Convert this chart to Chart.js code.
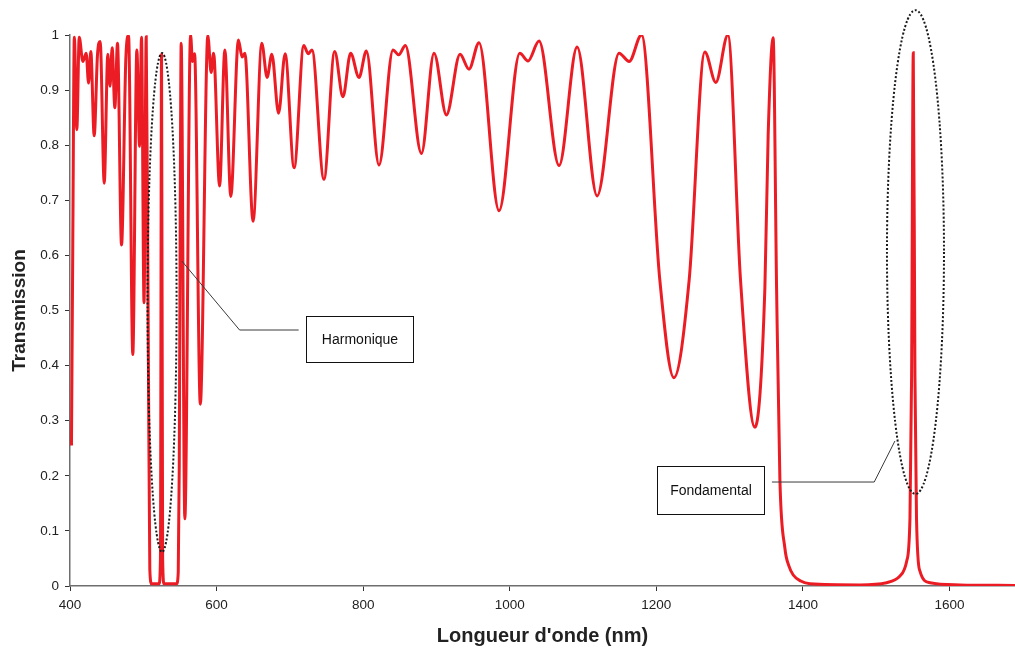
<!DOCTYPE html>
<html>
<head>
<meta charset="utf-8">
<script src="https://cdn.jsdelivr.net/npm/chart.js@4.4.1/dist/chart.umd.min.js"></script>
<style>
  html, body { margin: 0; padding: 0; background: #ffffff; overflow: hidden; }
  canvas { display: block; }
</style>
</head>
<body>
<canvas id="spectre" width="1015" height="652"></canvas>
<script>
// Transmission spectrum of the structure (wavelength in nm, transmission 0..1)
const wavelengthNm = [
  402.0, 403.8, 405.9, 409.3, 412.6, 417.5, 422.1, 425.3, 428.4, 433.0,
  437.5, 441.2, 446.7, 451.6, 454.6, 457.5, 461.2, 464.8, 470.3, 476.2,
  479.9, 485.7, 491.2, 494.9, 497.6, 501.0, 504.0, 506.8, 508.9, 511.3,
  521.5, 523.4, 524.9, 526.4, 528.3, 545.4, 547.7, 549.1, 550.4, 551.7,
  556.7, 564.5, 567.2, 570.0, 577.8, 588.1, 592.5, 595.9, 604.1, 611.3,
  619.4, 629.8, 634.8, 638.6, 649.8, 661.7, 668.9, 675.4, 684.6, 693.5,
  705.8, 719.0, 724.9, 730.1, 746.5, 761.1, 772.4, 782.9, 794.3, 804.4,
  821.6, 840.7, 848.5, 857.6, 879.5, 896.7, 913.6, 932.2, 944.4, 958.1,
  985.4, 1013.7, 1025.0, 1040.0, 1067.3, 1091.9, 1119.2, 1149.2, 1162.9, 1179.8,
  1204.8, 1223.9, 1244.8, 1266.2, 1281.2, 1297.6, 1314.9, 1334.5, 1348.1, 1352.6,
  1359.4, 1364.1, 1368.6, 1375.4, 1381.0, 1386.8, 1397.0, 1409.6, 1477.8, 1514.3,
  1532.4, 1541.6, 1546.1, 1548.3, 1550.6, 1552.9, 1555.0, 1559.7, 1573.4, 1614.4,
  1689.4
];
const transmission = [
  0.255, 0.620, 0.996, 0.828, 0.996, 0.952, 0.967, 0.913, 0.970, 0.817,
  0.964, 0.988, 0.731, 0.965, 0.907, 0.977, 0.868, 0.985, 0.619, 0.958,
  0.999, 0.420, 0.973, 0.798, 0.996, 0.514, 0.997, 0.450, 0.030, 0.004,
  0.004, 0.050, 0.965, 0.050, 0.004, 0.004, 0.025, 0.220, 0.680, 0.985,
  0.122, 1.000, 0.952, 0.966, 0.330, 0.999, 0.932, 0.967, 0.726, 0.973,
  0.707, 0.991, 0.960, 0.967, 0.662, 0.985, 0.923, 0.965, 0.858, 0.966,
  0.759, 0.981, 0.966, 0.973, 0.738, 0.970, 0.888, 0.967, 0.923, 0.971,
  0.764, 0.973, 0.964, 0.981, 0.785, 0.967, 0.855, 0.965, 0.938, 0.986,
  0.681, 0.967, 0.953, 0.989, 0.763, 0.978, 0.708, 0.967, 0.952, 1.000,
  0.555, 0.378, 0.555, 0.969, 0.914, 1.000, 0.555, 0.288, 0.540, 0.818,
  0.995, 0.540, 0.194, 0.069, 0.036, 0.020, 0.009, 0.004, 0.002, 0.006,
  0.018, 0.045, 0.124, 0.380, 0.968, 0.380, 0.124, 0.027, 0.006, 0.002,
  0.001
];

// Axis ticks
const xTickValues = [400, 600, 800, 1000, 1200, 1400, 1600];
const xTickLabels = ['400', '600', '800', '1000', '1200', '1400', '1600'];
const yTickValues = [0, 0.1, 0.2, 0.3, 0.4, 0.5, 0.6, 0.7, 0.8, 0.9, 1];
const yTickLabels = ['0', '0.1', '0.2', '0.3', '0.4', '0.5', '0.6', '0.7', '0.8', '0.9', '1'];

// Dotted ellipses around the two resonances (data units)
const ellipses = [
  { cx: 525.6, cy: 0.5145, rx: 19.8, ry: 0.4528 },
  { cx: 1553.6, cy: 0.606, rx: 38.9, ry: 0.439 }
];

// Labelled boxes with leader lines (data units)
const callouts = [
  {
    text: 'Harmonique',
    box: { x0: 721.5, x1: 867.6, yTop: 0.490, yBottom: 0.4065 },
    leader: [[552.6, 0.5898], [631.4, 0.4646], [712.0, 0.4646]]
  },
  {
    text: 'Fondamental',
    box: { x0: 1200.6, x1: 1346.7, yTop: 0.2178, yBottom: 0.1307 },
    leader: [[1357.7, 0.1887], [1497.3, 0.1887], [1525.6, 0.2632]]
  }
];

const FONT = "'Liberation Sans', Arial, Helvetica, sans-serif";

const annotationPlugin = {
  id: 'annotations',
  afterDatasetsDraw(chart) {
    const { ctx, scales: { x, y } } = chart;
    ctx.save();

    // dotted ellipses
    ctx.strokeStyle = '#1a1a1a';
    ctx.lineWidth = 2;
    ctx.setLineDash([2, 2]);
    ellipses.forEach(e => {
      const cx = x.getPixelForValue(e.cx);
      const cy = y.getPixelForValue(e.cy);
      const rx = x.getPixelForValue(e.cx + e.rx) - cx;
      const ry = cy - y.getPixelForValue(e.cy + e.ry);
      ctx.beginPath();
      ctx.ellipse(cx, cy, rx, ry, 0, 0, Math.PI * 2);
      ctx.stroke();
    });
    ctx.setLineDash([]);

    // leader lines and boxes
    callouts.forEach(c => {
      ctx.strokeStyle = '#3a3a3a';
      ctx.lineWidth = 1;
      ctx.beginPath();
      c.leader.forEach((p, i) => {
        const px = x.getPixelForValue(p[0]);
        const py = y.getPixelForValue(p[1]);
        if (i === 0) ctx.moveTo(px, py); else ctx.lineTo(px, py);
      });
      ctx.stroke();

      const bx0 = Math.round(x.getPixelForValue(c.box.x0)) + 0.5;
      const bx1 = Math.round(x.getPixelForValue(c.box.x1)) + 0.5;
      const by0 = Math.round(y.getPixelForValue(c.box.yTop)) + 0.5;
      const by1 = Math.round(y.getPixelForValue(c.box.yBottom)) + 0.5;
      ctx.fillStyle = '#ffffff';
      ctx.fillRect(bx0, by0, bx1 - bx0, by1 - by0);
      ctx.strokeStyle = '#111111';
      ctx.strokeRect(bx0, by0, bx1 - bx0, by1 - by0);

      ctx.fillStyle = '#111111';
      ctx.font = '14px ' + FONT;
      ctx.textAlign = 'center';
      ctx.textBaseline = 'middle';
      ctx.fillText(c.text, (bx0 + bx1) / 2, (by0 + by1) / 2 + 1);
    });

    ctx.restore();
  }
};

new Chart(document.getElementById('spectre'), {
  type: 'line',
  data: {
    datasets: [{
      data: wavelengthNm.map((w, i) => ({ x: w, y: transmission[i] })),
      borderColor: '#ec1c24',
      borderWidth: 3,
      pointRadius: 0,
      fill: false,
      cubicInterpolationMode: 'monotone'
    }]
  },
  options: {
    responsive: false,
    animation: false,
    devicePixelRatio: 1,
    layout: { padding: { top: 35, right: 0, left: 0, bottom: 0 } },
    plugins: {
      legend: { display: false },
      tooltip: { enabled: false }
    },
    scales: {
      x: {
        type: 'linear',
        min: 400,
        max: 1689.4,
        afterBuildTicks: s => { s.ticks = xTickValues.map(v => ({ value: v })); },
        afterFit: s => { s.height = 66; },
        ticks: {
          callback: (v) => xTickLabels[xTickValues.indexOf(v)],
          font: { family: FONT, size: 13.5 },
          color: '#222222',
          padding: 6,
          maxRotation: 0
        },
        grid: { drawOnChartArea: false, drawTicks: true, tickLength: 5, color: '#333333' },
        border: { display: true, color: '#6e6e6e', width: 1.5 },
        title: {
          display: true,
          text: "Longueur d'onde (nm)",
          font: { family: FONT, size: 20, weight: 'bold' },
          color: '#222222',
          padding: { top: 0, bottom: 4 }
        }
      },
      y: {
        type: 'linear',
        min: 0,
        max: 1,
        afterBuildTicks: s => { s.ticks = yTickValues.map(v => ({ value: v })); },
        afterFit: s => { s.width = 70; },
        ticks: {
          callback: (v) => yTickLabels[yTickValues.findIndex(t => Math.abs(t - v) < 1e-9)],
          font: { family: FONT, size: 13.5 },
          color: '#222222',
          padding: 6
        },
        grid: { drawOnChartArea: false, drawTicks: true, tickLength: 5, color: '#333333' },
        border: { display: true, color: '#6e6e6e', width: 1.5 },
        title: {
          display: true,
          text: 'Transmission',
          font: { family: FONT, size: 19, weight: 'bold' },
          color: '#222222',
          padding: { top: 8, bottom: 0 }
        }
      }
    }
  },
  plugins: [annotationPlugin]
});
</script>
</body>
</html>
